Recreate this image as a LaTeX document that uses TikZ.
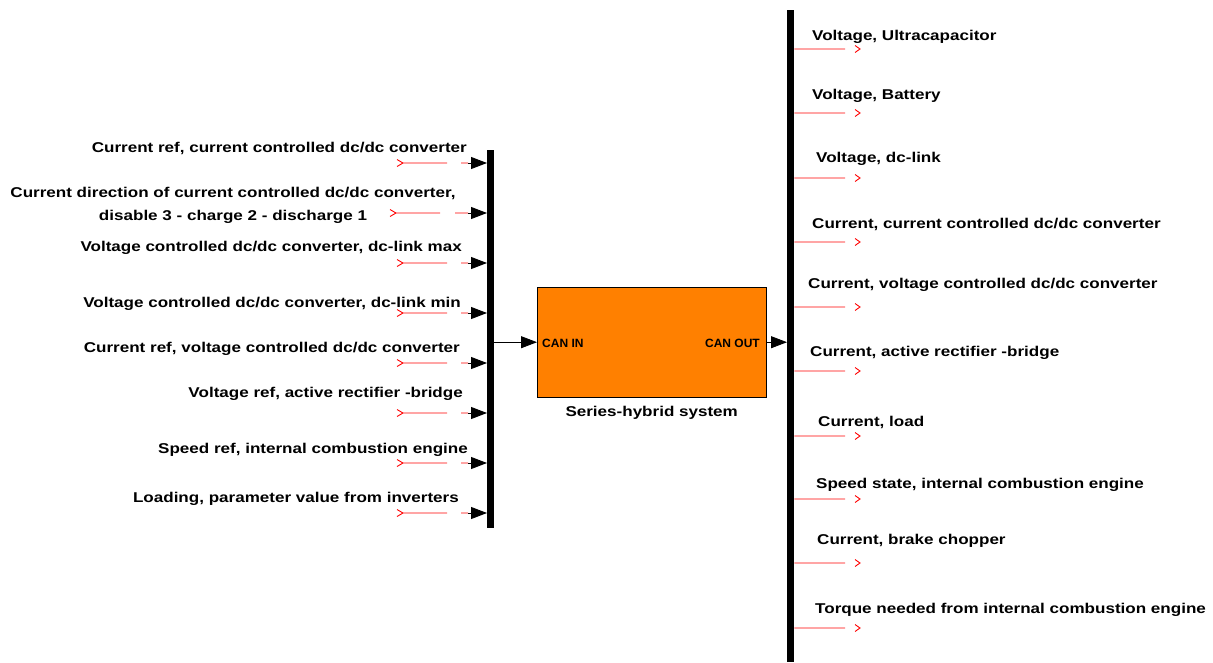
\documentclass[tikz,border=0pt]{standalone}
\usepackage{fontspec}
\setmainfont{Liberation Sans}[FakeStretch=1.2]
\newfontfamily\portfont{Liberation Sans}
\usepackage{tikz}
\usetikzlibrary{arrows.meta,positioning}

\definecolor{simorange}{RGB}{255,128,0}

\begin{document}
\begin{tikzpicture}[x=1pt,y=-1pt,
  lbl/.style={inner sep=0pt,font=\bfseries\fontsize{14.2}{17}\selectfont},
  port/.style={inner sep=0pt,font=\portfont\bfseries\fontsize{12}{14}\selectfont},
  tag/.style={red,line width=0.9pt},
  feed/.style={black,line width=0.9pt,-{Triangle[length=16pt,width=12pt]}},
  busbar/.style={fill=black,inner sep=0pt,minimum width=7pt}]
\useasboundingbox (0,0) rectangle (1213,662);
% bus bars and the system block
\node[busbar,minimum height=378pt,anchor=north west] (busin) at (487,150) {};
\node[busbar,minimum height=652pt,anchor=north west] (busout) at (787,10) {};
\node[draw=black,fill=simorange,inner sep=0pt,minimum width=229pt,minimum height=110pt,anchor=north west] (sys) at (537,287) {};
\node[port,anchor=base west] (canin) at (542,347.5) {CAN IN};
\node[port,anchor=base east] (canout) at (760,347.5) {CAN OUT};
\node[lbl,anchor=base] (sysname) at ([yshift=-19pt]sys.south) {Series-hybrid system};
\draw[feed] (busin.east |- sys.west) -- (sys.west);
\draw[feed] (sys.east) -- (busout.west |- sys.east);
% inputs
\node[lbl,anchor=base east] (in1) at (467,152) {Current ref, current controlled dc/dc converter};
\draw[tag] (397,159.5) -- (403,163) -- (397,166.5) (403,163) -- (447,163) (461,163) -- (468,163);
\draw[feed] (468,163) -- (busin.west |- 0,163);
\node[lbl,align=center,font=\bfseries\fontsize{14.2}{23}\selectfont] (in2) at (233,205.5) {Current direction of current controlled dc/dc converter,\\disable 3 - charge 2 - discharge 1};
\draw[tag] (390,209.5) -- (396,213) -- (390,216.5) (396,213) -- (440,213) (455,213) -- (468,213);
\draw[feed] (468,213) -- (busin.west |- 0,213);
\node[lbl,anchor=base east] (in3) at (462,251) {Voltage controlled dc/dc converter, dc-link max};
\draw[tag] (397,259.5) -- (403,263) -- (397,266.5) (403,263) -- (447,263) (461,263) -- (468,263);
\draw[feed] (468,263) -- (busin.west |- 0,263);
\node[lbl,anchor=base east] (in4) at (461,307) {Voltage controlled dc/dc converter, dc-link min};
\draw[tag] (397,309.5) -- (403,313) -- (397,316.5) (403,313) -- (447,313) (461,313) -- (468,313);
\draw[feed] (468,313) -- (busin.west |- 0,313);
\node[lbl,anchor=base east] (in5) at (460,352) {Current ref, voltage controlled dc/dc converter};
\draw[tag] (397,359.5) -- (403,363) -- (397,366.5) (403,363) -- (447,363) (461,363) -- (468,363);
\draw[feed] (468,363) -- (busin.west |- 0,363);
\node[lbl,anchor=base east] (in6) at (463,397) {Voltage ref, active rectifier -bridge};
\draw[tag] (397,409.5) -- (403,413) -- (397,416.5) (403,413) -- (447,413) (461,413) -- (468,413);
\draw[feed] (468,413) -- (busin.west |- 0,413);
\node[lbl,anchor=base east] (in7) at (468,453) {Speed ref, internal combustion engine};
\draw[tag] (397,459.5) -- (403,463) -- (397,466.5) (403,463) -- (447,463) (461,463) -- (468,463);
\draw[feed] (468,463) -- (busin.west |- 0,463);
\node[lbl,anchor=base east] (in8) at (459,502) {Loading, parameter value from inverters};
\draw[tag] (397,509.5) -- (403,513) -- (397,516.5) (403,513) -- (447,513) (461,513) -- (468,513);
\draw[feed] (468,513) -- (busin.west |- 0,513);
% outputs
\node[lbl,anchor=base west] (out1) at (812,40) {Voltage, Ultracapacitor};
\draw[tag] (busout.east |- 0,49) -- (845,49) (855,45.5) -- (860,49) -- (855,52.5);
\node[lbl,anchor=base west] (out2) at (812,99) {Voltage, Battery};
\draw[tag] (busout.east |- 0,113) -- (845,113) (855,109.5) -- (860,113) -- (855,116.5);
\node[lbl,anchor=base west] (out3) at (816,162) {Voltage, dc-link};
\draw[tag] (busout.east |- 0,178) -- (845,178) (855,174.5) -- (860,178) -- (855,181.5);
\node[lbl,anchor=base west] (out4) at (812,228) {Current, current controlled dc/dc converter};
\draw[tag] (busout.east |- 0,242) -- (845,242) (855,238.5) -- (860,242) -- (855,245.5);
\node[lbl,anchor=base west] (out5) at (808,288) {Current, voltage controlled dc/dc converter};
\draw[tag] (busout.east |- 0,307) -- (845,307) (855,303.5) -- (860,307) -- (855,310.5);
\node[lbl,anchor=base west] (out6) at (810,356) {Current, active rectifier -bridge};
\draw[tag] (busout.east |- 0,371) -- (845,371) (855,367.5) -- (860,371) -- (855,374.5);
\node[lbl,anchor=base west] (out7) at (818,426) {Current, load};
\draw[tag] (busout.east |- 0,436) -- (845,436) (855,432.5) -- (860,436) -- (855,439.5);
\node[lbl,anchor=base west] (out8) at (816,488) {Speed state, internal combustion engine};
\draw[tag] (busout.east |- 0,499) -- (845,499) (855,495.5) -- (860,499) -- (855,502.5);
\node[lbl,anchor=base west] (out9) at (817,544) {Current, brake chopper};
\draw[tag] (busout.east |- 0,563) -- (845,563) (855,559.5) -- (860,563) -- (855,566.5);
\node[lbl,anchor=base west] (out10) at (815,613) {Torque needed from internal combustion engine};
\draw[tag] (busout.east |- 0,628) -- (845,628) (855,624.5) -- (860,628) -- (855,631.5);
\end{tikzpicture}
\end{document}
